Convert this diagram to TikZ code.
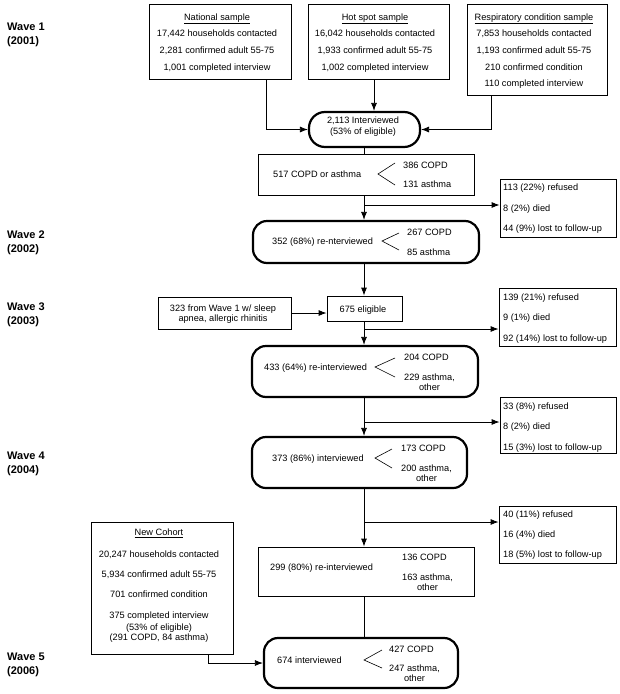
\documentclass[tikz,border=0pt]{standalone}
\usepackage{fontspec}
\setmainfont{Liberation Sans}
\usetikzlibrary{arrows.meta,positioning}

\begin{document}
\begin{tikzpicture}[x=1pt,y=-1pt,font=\fontsize{9.2}{11}\selectfont]
    \tikzset{
    box/.style={draw,line width=0.8pt,inner sep=0pt},
    rbox/.style={draw,line width=2.2pt,rounded corners=14pt,inner sep=0pt},
    txt/.style={inner sep=0pt,text height=6.6pt,text depth=0pt},
    wave/.style={inner sep=0pt,anchor=north west,align=left,font=\bfseries\fontsize{11}{14}\selectfont},
    arr/.style={line width=0.8pt,-{Latex[length=8pt,width=6pt]}},
    ln/.style={line width=0.8pt},
    chev/.style={line width=0.6pt},
    }
    \useasboundingbox (0,0) rectangle (620,694);
    \coordinate (tx) at (364,0);

    % wave labels
    \node[wave] (w1) at (7,23) {Wave 1\\(2001)};
    \node[wave] (w2) at (7,231) {Wave 2\\(2002)};
    \node[wave] (w3) at (7,303) {Wave 3\\(2003)};
    \node[wave] (w4) at (7,452) {Wave 4\\(2004)};
    \node[wave] (w5) at (7,653) {Wave 5\\(2006)};

    % wave 1 samples
    \node[box,minimum width=142pt,minimum height=75pt] (nat) at (220,41.5) {};
    \node[box,minimum width=141pt,minimum height=75pt] (hot) at (378.5,41.5) {};
    \node[box,minimum width=140pt,minimum height=91pt] (resp) at (537,49.5) {};
    \node[txt] (nat0) at (217,17) {\underline{National sample}};
    \node[txt] (nat1) at (217,33) {17,442 households contacted};
    \node[txt] (nat2) at (217,50) {2,281 confirmed adult 55-75};
    \node[txt] (nat3) at (217,67) {1,001 completed interview};
    \node[txt] (hot0) at (375,17) {\underline{Hot spot sample}};
    \node[txt] (hot1) at (375,33) {16,042 households contacted};
    \node[txt] (hot2) at (375,50) {1,933 confirmed adult 55-75};
    \node[txt] (hot3) at (375,67) {1,002 completed interview};
    \node[txt] (resp0) at (534,17) {\underline{Respiratory condition sample}};
    \node[txt] (resp1) at (534,33) {7,853 households contacted};
    \node[txt] (resp2) at (534,50) {1,193 confirmed adult 55-75};
    \node[txt] (resp3) at (534,67) {210 confirmed condition};
    \node[txt] (resp4) at (534,83) {110 completed interview};

    \node[rbox,rounded corners=16pt,minimum width=111pt,minimum height=35pt] (int1) at (364.5,129.5) {};
    \node[txt] (int1a) at (363,120) {2,113 Interviewed};
    \node[txt] (int1b) at (363,131) {(53\% of eligible)};

    % wave 1 -> wave 2
    \node[box,minimum width=216pt,minimum height=41pt] (b517) at (366,174.5) {};
    \node[txt,anchor=west] (b517a) at (273,174) {517 COPD or asthma};
    \draw[chev] (395,163) -- (378,174) -- (395,185);
    \node[txt,anchor=west] (b517b) at (403,165) {386 COPD};
    \node[txt,anchor=west] (b517c) at (403,184) {131 asthma};

    \node[box,minimum width=116pt,minimum height=58pt] (ref1) at (558,208) {};
    \node[txt,anchor=west] (ref1a) at (503,187) {113 (22\%) refused};
    \node[txt,anchor=west] (ref1b) at (503,208) {8 (2\%) died};
    \node[txt,anchor=west] (ref1c) at (503,228) {44 (9\%) lost to follow-up};

    \node[rbox,minimum width=226pt,minimum height=42pt] (b352) at (366,242) {};
    \node[txt,anchor=west] (b352a) at (272,241) {352 (68\%) re-nterviewed};
    \draw[chev] (399,233) -- (382,241) -- (399,250);
    \node[txt,anchor=west] (b352b) at (407,232) {267 COPD};
    \node[txt,anchor=west] (b352c) at (407,252) {85 asthma};

    % wave 3
    \node[box,minimum width=133pt,minimum height=32pt] (b323) at (224.5,313) {};
    \node[txt] (b323a) at (223,308) {323 from Wave 1 w/ sleep};
    \node[txt] (b323b) at (223,318) {apnea, allergic rhinitis};
    \node[box,minimum width=75pt,minimum height=25pt] (b675) at (364.5,308.5) {};
    \node[txt] (b675a) at (363,309) {675 eligible};

    \node[box,minimum width=117pt,minimum height=58pt] (ref2) at (557.5,317) {};
    \node[txt,anchor=west] (ref2a) at (503,297) {139 (21\%) refused};
    \node[txt,anchor=west] (ref2b) at (503,317) {9 (1\%) died};
    \node[txt,anchor=west] (ref2c) at (503,338) {92 (14\%) lost to follow-up};

    \node[rbox,minimum width=226pt,minimum height=51pt] (b433) at (365,371.5) {};
    \node[txt,anchor=west] (b433a) at (264,367) {433 (64\%) re-interviewed};
    \draw[chev] (395,358) -- (375,367) -- (395,377);
    \node[txt,anchor=west] (b433b) at (404,357) {204 COPD};
    \node[txt,anchor=west] (b433c) at (404,377) {229 asthma,};
    \node[txt,below=3.4pt of b433c] (b433d) {other};

    % wave 4
    \node[box,minimum width=116pt,minimum height=56pt] (ref3) at (558,425) {};
    \node[txt,anchor=west] (ref3a) at (503,406) {33 (8\%) refused};
    \node[txt,anchor=west] (ref3b) at (503,426) {8 (2\%) died};
    \node[txt,anchor=west] (ref3c) at (503,447) {15 (3\%) lost to follow-up};

    \node[rbox,minimum width=215pt,minimum height=51pt] (b373) at (359.5,462.5) {};
    \node[txt,anchor=west] (b373a) at (272,458) {373 (86\%) interviewed};
    \draw[chev] (392,449) -- (375,458) -- (392,468);
    \node[txt,anchor=west] (b373b) at (401,448) {173 COPD};
    \node[txt,anchor=west] (b373c) at (401,468) {200 asthma,};
    \node[txt,below=3.4pt of b373c] (b373d) {other};

    % wave 5
    \node[box,minimum width=117pt,minimum height=57pt] (ref4) at (557.5,534.5) {};
    \node[txt,anchor=west] (ref4a) at (503,514) {40 (11\%) refused};
    \node[txt,anchor=west] (ref4b) at (503,534) {16 (4\%) died};
    \node[txt,anchor=west] (ref4c) at (503,554) {18 (5\%) lost to follow-up};

    \node[box,minimum width=216pt,minimum height=49pt] (b299) at (366,571.5) {};
    \node[txt,anchor=west] (b299a) at (270,567) {299 (80\%) re-interviewed};
    \node[txt,anchor=west] (b299b) at (402,557) {136 COPD};
    \node[txt,anchor=west] (b299c) at (402,577) {163 asthma,};
    \node[txt,below=3.4pt of b299c] (b299d) {other};

    \node[box,minimum width=142pt,minimum height=132pt] (newc) at (162,588) {};
    \node[txt] (newc0) at (159,532) {\underline{New Cohort}};
    \node[txt] (newc1) at (159,554) {20,247 households contacted};
    \node[txt] (newc2) at (159,574) {5,934 confirmed adult 55-75};
    \node[txt] (newc3) at (159,594) {701 confirmed condition};
    \node[txt] (newc4) at (159,615) {375 completed interview};
    \node[txt] (newc5) at (159,627) {(53\% of eligible)};
    \node[txt] (newc6) at (159,637) {(291 COPD, 84 asthma)};

    \node[rbox,minimum width=194pt,minimum height=50pt] (b674) at (361,663) {};
    \node[txt,anchor=west] (b674a) at (277,660) {674 interviewed};
    \draw[chev] (382,650) -- (364,660) -- (382,668);
    \node[txt,anchor=west] (b674b) at (389,649) {427 COPD};
    \node[txt,anchor=west] (b674c) at (389,668) {247 asthma,};
    \node[txt,below=3.4pt of b674c] (b674d) {other};

    % connectors
    \coordinate (ns) at ([xshift=46pt]nat.south);
    \coordinate (hs) at ([xshift=-4.5pt]hot.south);
    \coordinate (rs) at ([xshift=-46pt]resp.south);
    \draw[arr] (ns) |- (int1.west);
    \draw[arr] (hs) -- (hs |- int1.north);
    \draw[arr] (rs) |- (int1.east);
    \draw[ln] (int1.south -| tx) -- (b517.north -| tx);
    \draw[arr] (b517.south -| tx) -- (b352.north -| tx);
    \coordinate (r1) at ([yshift=3pt]ref1.west);
    \draw[arr] (r1 -| tx) -- (r1);
    \draw[arr] (b352.south -| tx) -- (b675.north -| tx);
    \draw[arr] (b323.east) -- (b323.east -| b675.west);
    \draw[arr] (b675.south -| tx) -- (b433.north -| tx);
    \coordinate (r2) at ([yshift=-12pt]ref2.west);
    \draw[arr] (r2 -| tx) -- (r2);
    \draw[arr] (b433.south -| tx) -- (b373.north -| tx);
    \coordinate (r3) at ([yshift=3pt]ref3.west);
    \draw[arr] (r3 -| tx) -- (r3);
    \draw[arr] (b373.south -| tx) -- (b299.north -| tx);
    \coordinate (r4) at ([yshift=12.5pt]ref4.west);
    \draw[arr] (r4 -| tx) -- (r4);
    \draw[ln] (b299.south -| tx) -- (b674.north -| tx);
    \coordinate (nc) at ([xshift=46pt]newc.south);
    \draw[arr] (nc) |- (b674.west);
\end{tikzpicture}
\end{document}
